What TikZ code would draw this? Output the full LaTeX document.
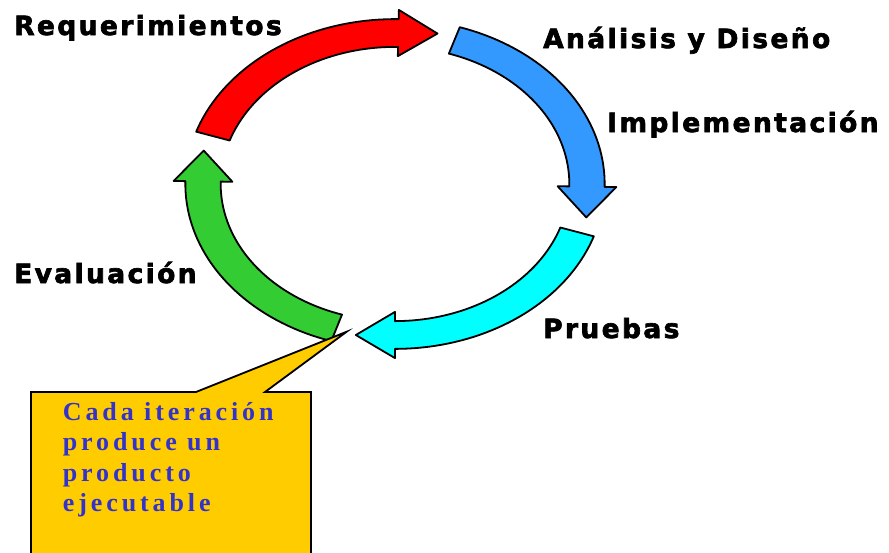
\documentclass[tikz,border=0pt]{standalone}
\usepackage{fontspec}
\usetikzlibrary{calc}
\newfontfamily\lblfont[LetterSpace=9, FakeBold=2.5]{DejaVu Sans Bold}
\newfontfamily\calfont[LetterSpace=15]{Liberation Serif Bold}
\definecolor{arrred}{HTML}{FF0000}
\definecolor{arrblue}{HTML}{3399FF}
\definecolor{arrcyan}{HTML}{00FFFF}
\definecolor{arrgreen}{HTML}{33CC33}
\definecolor{calyellow}{HTML}{FFCC00}
\definecolor{caltext}{HTML}{3333CC}
\tikzset{
  lbl/.style={anchor=base west, inner sep=0pt, font=\lblfont\fontsize{26.5}{30}\selectfont},
  arrowshape/.style={draw=black, line width=1.8pt, line join=round},
  calloutbox/.style={draw=black, line width=1.8pt, fill=calyellow, line join=miter},
  calltext/.style={anchor=base west, inner sep=0pt, align=left, text=caltext,
    font=\calfont\fontsize{26}{30.5}\selectfont}
}
\newcommand\cycarrow[3]{%
  \filldraw[arrowshape, fill=#1]
    plot[domain=#2:#3, samples=40] ({1.092*cos(\x)},{1.092*sin(\x)})
    -- (#3:1.153)
    -- ($(#3:1)+({#3-90}:0.204)$)
    -- (#3:0.847)
    -- plot[domain=#3:#2, samples=40] ({0.908*cos(\x)},{0.908*sin(\x)})
    -- cycle;}
\begin{document}
\begin{tikzpicture}[x=1pt,y=-1pt]
\useasboundingbox (0,0) rectangle (889,552);
\clip (0,0) rectangle (889,552);
\fill[white] (0,0) rectangle (889,552);
\begin{scope}[shift={(395,184)}, xscale=192, yscale=-151]
  \cycarrow{arrred}{161.5}{89}
  \cycarrow{arrblue}{72}{-1}
  \cycarrow{arrcyan}{-18.5}{-90}
  \cycarrow{arrgreen}{-107.7}{-181}
\end{scope}
\coordinate (calltip) at (346.7,331.7);
\filldraw[calloutbox] (31,392) -- (196,392) -- (calltip) -- (265,392) -- (311,392) -- (311,570) -- (31,570) -- cycle;
\node[calltext] (note) at (62.7,511.5) {Cada iteración\\produce un\\producto\\ejecutable};
\node[lbl] (req) at (14,35) {Requerimientos};
\node[lbl] (ana) at (543,48) {Análisis y Diseño};
\node[lbl] (imp) at (607,132) {Implementación};
\node[lbl] (eva) at (14,283) {Evaluación};
\node[lbl] (pru) at (543,338) {Pruebas};
\end{tikzpicture}
\end{document}
